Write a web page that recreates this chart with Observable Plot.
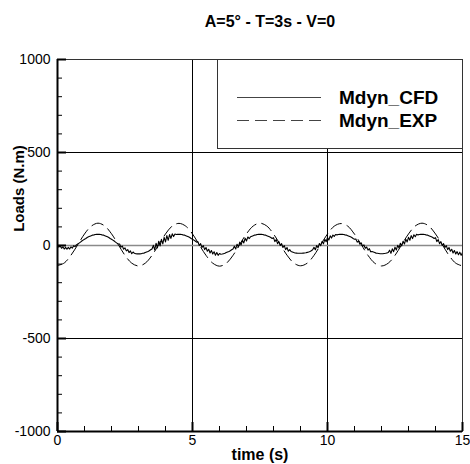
<!DOCTYPE html>
<html><head><meta charset="utf-8">
<script src="https://cdn.jsdelivr.net/npm/d3@7"></script>
<script src="https://cdn.jsdelivr.net/npm/@observablehq/plot@0.6"></script>
<style>
body{margin:0;background:#fff;}
#wrap{position:relative;width:470px;height:464px;font-family:"Liberation Sans",Arial,sans-serif;}
#legend{position:absolute;left:217px;top:59px;width:246px;height:90px;}
</style></head><body><div id="wrap"><div id="legend"></div></div>
<script>
const title = "A=5° - T=3s - V=0";
const xLabel = "time (s)";
const yLabel = "Loads (N.m)";
const seriesNames = ["Mdyn_CFD", "Mdyn_EXP"];
const xDomain = [0, 15];
const yDomain = [-1000, 1000];
const xTicks = [0, 5, 10, 15];
const yTicks = [-1000, -500, 0, 500, 1000];
const xMinor = [1, 2, 3, 4, 6, 7, 8, 9, 11, 12, 13, 14];
const yMinor = [-900, -800, -700, -600, -400, -300, -200, -100, 100, 200, 300, 400, 600, 700, 800, 900];
const xGrid = [5, 10];
const yGrid = [-500, 500];
const yZero = [0];

// Mdyn_CFD sampled every 0.05 s
const cfdStep = 0.05;
const cfd = [
  0,-9,-2,-15,-7,-19,-10,-20,-10,-19,-7,-14,-1,-6,3,8,13,18,24,29,
  34,38,43,47,50,53,56,57,59,60,60,60,59,57,56,53,50,47,43,38,
  34,29,24,18,13,8,8,-9,-3,-20,-13,-29,-22,-38,-29,-44,-35,-42,-44,-45,
  -45,-45,-44,-42,-41,-38,-35,-32,-28,-23,-19,1,-24,12,-13,23,-2,33,9,44,
  19,53,28,59,38,63,48,62,59,60,60,60,59,57,56,53,50,47,43,38,
  34,29,24,18,21,0,10,-11,-1,-22,-11,-31,-20,-40,-27,-46,-34,-52,-38,-53,
  -43,-47,-46,-44,-42,-38,-35,-32,-28,-23,-19,-4,-19,7,-8,18,3,28,14,39,
  24,46,37,47,50,53,56,57,59,60,60,60,59,57,56,53,50,47,43,38,
  42,21,32,10,21,0,10,-11,-1,-22,-11,-31,-22,-32,-35,-38,-40,-41,-42,-42,
  -42,-42,-41,-40,-39,-37,-35,-32,-28,-23,-10,-23,0,-12,11,-1,22,9,33,20,
  43,29,52,40,56,49,59,57,59,60,60,60,59,57,56,53,50,47,43,38,
  34,35,18,24,7,14,-4,3,-15,-8,-25,-17,-34,-32,-35,-38,-41,-42,-43,-44,
  -44,-44,-43,-42,-40,-38,-25,-42,-18,-33,-9,-24,1,-13,12,-2,23,8,34,19,
  44,28,53,37,58,47,60,57,59,60,60,60,59,57,56,53,50,47,43,38,
  42,21,32,10,21,0,10,-11,-1,-22,-11,-31,-20,-40,-27,-46,-33,-50,-36,-53,
  -37
];

// Mdyn_EXP sampled every 0.25 s
const expStep = 0.25;
const exp = [
  -108,-94,-52,4,62,104,120,105,63,5,-53,-95,
  -110,-95,-53,5,62,105,119,104,62,4,-53,-95,
  -111,-96,-53,6,63,105,120,105,62,5,-52,-94,
  -109,-95,-53,5,62,104,118,104,61,5,-53,-95,
  -110,-95,-53,5,62,105,120,105,62,5,-53,-95,
  -110
];

const W = 470, H = 464;
const M = {top: 59, right: 8, bottom: 33, left: 57};
const frameW = W - M.left - M.right;
const frameH = H - M.top - M.bottom;

const cfdData = cfd.map((v, i) => ({t: i * cfdStep, v}));
const expData = exp.map((v, i) => ({t: i * expStep, v}));

const chart = Plot.plot({
  width: W, height: H,
  marginTop: M.top, marginRight: M.right, marginBottom: M.bottom, marginLeft: M.left,
  x: {domain: xDomain},
  y: {domain: yDomain},
  style: {background: "white", color: "black", fontFamily: "'Liberation Sans', Arial, sans-serif", fontSize: "14px", overflow: "visible"},
  marks: [
    Plot.ruleX(xGrid, {stroke: "black", strokeWidth: 1}),
    Plot.ruleY(yGrid, {stroke: "black", strokeWidth: 1}),
    Plot.ruleY(yZero, {stroke: "#8a8a8a", strokeWidth: 1.5}),
    Plot.line(expData, {x: "t", y: "v", stroke: "black", strokeWidth: 1, strokeDasharray: "12,6", curve: "catmull-rom"}),
    Plot.line(cfdData, {x: "t", y: "v", stroke: "black", strokeWidth: 1.1}),
    Plot.frame({stroke: "#333", strokeWidth: 1}),
    Plot.ruleX([xDomain[0]], {stroke: "black", strokeWidth: 2}),
    Plot.ruleY([yDomain[0]], {stroke: "black", strokeWidth: 2}),
    Plot.tickX(xMinor, {x: d => d, stroke: "black", strokeWidth: 1, insetTop: frameH - 5}),
    Plot.tickX(xTicks, {x: d => d, stroke: "black", strokeWidth: 2, insetTop: frameH - 9}),
    Plot.tickY(yMinor, {y: d => d, stroke: "black", strokeWidth: 1, insetRight: frameW - 5}),
    Plot.tickY(yTicks, {y: d => d, stroke: "black", strokeWidth: 2, insetRight: frameW - 9}),
    Plot.axisX({ticks: xTicks, tickSize: 0, tickPadding: 4, label: null, tickFormat: d => String(d), fontSize: 14}),
    Plot.axisY({ticks: yTicks, tickSize: 0, tickPadding: 7, label: null, tickFormat: d => String(d), fontSize: 14}),
    Plot.text([title], {text: d => d, frameAnchor: "top", textAnchor: "middle", lineAnchor: "middle", dy: -38, dx: 10, fontSize: 16, fontWeight: "bold"}),
    Plot.text([xLabel], {text: d => d, frameAnchor: "bottom", textAnchor: "middle", lineAnchor: "middle", dy: 23, fontSize: 16, fontWeight: "bold"}),
    Plot.text([yLabel], {text: d => d, frameAnchor: "left", textAnchor: "middle", lineAnchor: "middle", rotate: -90, dx: -38, dy: -57, fontSize: 15, fontWeight: "bold"})
  ]
});
document.getElementById("wrap").insertBefore(chart, document.getElementById("legend"));

// Legend box
const lg = d3.select("#legend").append("svg").attr("width", 246).attr("height", 90);
lg.append("rect").attr("x", 0.5).attr("y", 0.5).attr("width", 245).attr("height", 89)
  .attr("fill", "white").attr("stroke", "#333");
const dashes = [null, "12,6"];
seriesNames.forEach((name, i) => {
  const yy = 38 + i * 23;
  lg.append("line").attr("x1", 20).attr("x2", 104).attr("y1", yy + 0.5).attr("y2", yy + 0.5)
    .attr("stroke", "#444").attr("stroke-width", 1).attr("stroke-dasharray", dashes[i]);
  lg.append("text").attr("x", 122).attr("y", yy + 7).text(name)
    .attr("font-family", "'Liberation Sans', Arial, sans-serif").attr("font-size", 19).attr("font-weight", "bold");
});
</script>
</body></html>
